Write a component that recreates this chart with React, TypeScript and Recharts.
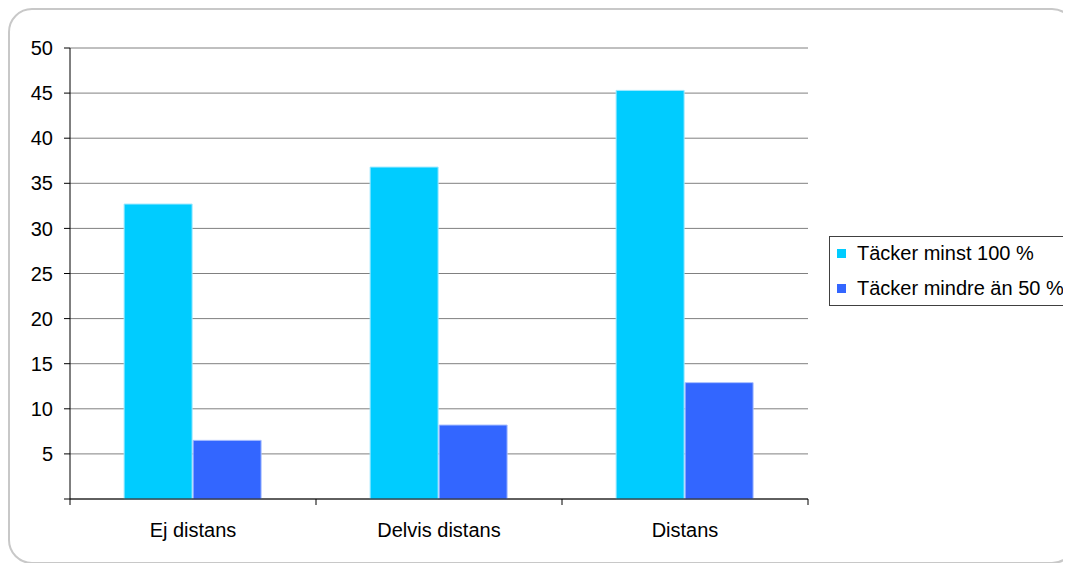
import { BarChart, Bar, XAxis, YAxis, CartesianGrid, Legend } from 'recharts';

const categories = ['Ej distans', 'Delvis distans', 'Distans'];
const minst100 = [32.7, 36.8, 45.3];
const mindre50 = [6.5, 8.2, 12.9];
const yTicks = [0, 5, 10, 15, 20, 25, 30, 35, 40, 45, 50];
const seriesNames = ['Täcker minst 100 %', 'Täcker mindre än 50 %'];

const data = categories.map((name, i) => ({ name, a: minst100[i], b: mindre50[i] }));

const COLORS = ['#00CCFF', '#3366FF'];
const FONT = '"Liberation Sans", Arial, sans-serif';
const BAND = 246;

function CategoryTick({ x, y, payload, index }: any) {
  const last = index === categories.length - 1;
  return (
    <g>
      <line x1={x - BAND / 2} x2={x - BAND / 2} y1={y - 8} y2={y - 2} stroke="#000" />
      {last && <line x1={x + BAND / 2} x2={x + BAND / 2} y1={y - 8} y2={y - 2} stroke="#000" />}
      <text x={x} y={y + 30} textAnchor="middle" fontSize={20} fontFamily={FONT} fill="#000">
        {payload.value}
      </text>
    </g>
  );
}

function LegendBox() {
  return (
    <div
      style={{
        border: '1px solid #404040',
        width: 240,
        height: 70,
        boxSizing: 'border-box',
        padding: '2px 0 0 7px',
        fontFamily: FONT,
        fontSize: 20,
        background: '#fff',
      }}
    >
      {seriesNames.map((n, i) => (
        <div key={n} style={{ display: 'flex', alignItems: 'center', height: 29, marginBottom: i === 0 ? 6 : 0 }}>
          <span style={{ width: 9, height: 9, background: COLORS[i], marginRight: 11 }} />
          <span>{n}</span>
        </div>
      ))}
    </div>
  );
}

export default function App() {
  return (
    <div style={{ position: 'relative', width: 1063, height: 555, overflow: 'hidden' }}>
      <div
        style={{
          position: 'absolute',
          left: 0,
          top: 0,
          width: 1068,
          height: 556,
          border: '2px solid #c8c8c8',
          borderRadius: 24,
          boxSizing: 'border-box',
        }}
      />
      <BarChart
        width={1063}
        height={555}
        data={data}
        margin={{ top: 40, right: 23, bottom: 34, left: 10 }}
        barCategoryGap="22%"
        barGap={1}
        style={{ position: 'absolute', left: 0, top: 0 }}
      >
        <CartesianGrid horizontal vertical={false} stroke="#808080" />
        <XAxis
          dataKey="name"
          height={30}
          axisLine={{ stroke: '#000' }}
          tickLine={false}
          tick={<CategoryTick />}
          interval={0}
        />
        <YAxis
          width={52}
          domain={[0, 50]}
          ticks={yTicks}
          interval={0}
          tickSize={6}
          tickMargin={11}
          tickFormatter={(v: number) => (v === 0 ? '' : String(v))}
          axisLine={{ stroke: '#000' }}
          tickLine={{ stroke: '#000' }}
          tick={{ fontSize: 20, fontFamily: FONT, fill: '#000' }}
        />
        <YAxis
          yAxisId="right"
          orientation="right"
          width={0}
          tick={false}
          tickLine={false}
          axisLine={{ stroke: '#808080', strokeWidth: 2 }}
        />
        <Legend
          layout="vertical"
          align="right"
          verticalAlign="middle"
          content={<LegendBox />}
          wrapperStyle={{ position: 'absolute', left: 821, top: 228, width: 240, height: 70 }}
        />
        <Bar dataKey="a" name={seriesNames[0]} fill={COLORS[0]} stroke="#9fe8ff" strokeWidth={1} isAnimationActive={false} />
        <Bar dataKey="b" name={seriesNames[1]} fill={COLORS[1]} stroke="#a8bfff" strokeWidth={1} isAnimationActive={false} />
      </BarChart>
    </div>
  );
}
